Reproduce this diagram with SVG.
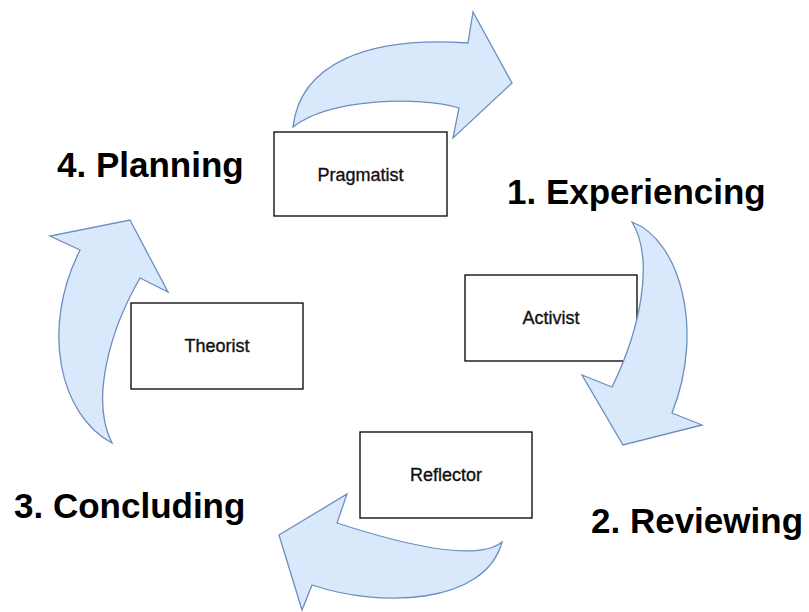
<svg xmlns="http://www.w3.org/2000/svg" width="809" height="612" viewBox="0 0 809 612">
  <style>
    .box { fill: #ffffff; stroke: #000000; stroke-width: 1.3; }
    .boxtext { font-family: "Liberation Sans", Arial, sans-serif; font-size: 18px; font-weight: normal; fill: #111111; stroke: #111111; stroke-width: 0.35; text-anchor: middle; }
    .stage { font-family: "Liberation Sans", Arial, sans-serif; font-size: 35px; font-weight: bold; fill: #000000; }
    .arrow { fill: #dae8fc; stroke: #6c8ebf; stroke-width: 1.3; stroke-linejoin: miter; }
  </style>
  <rect width="809" height="612" fill="#ffffff"/>

  <g id="node-pragmatist">
    <rect class="box" x="274" y="132" width="173" height="84"/>
    <text class="boxtext" x="360.5" y="181">Pragmatist</text>
  </g>
  <g id="node-activist">
    <rect class="box" x="465" y="275" width="172" height="86"/>
    <text class="boxtext" x="551" y="324">Activist</text>
  </g>
  <g id="node-theorist">
    <rect class="box" x="131" y="303" width="172" height="86"/>
    <text class="boxtext" x="217" y="352">Theorist</text>
  </g>
  <g id="node-reflector">
    <rect class="box" x="360" y="432" width="172" height="86"/>
    <text class="boxtext" x="446" y="481">Reflector</text>
  </g>

  <g id="connectors">
    <path id="arrow-top" class="arrow" d="M293,127 C300,65 365,36 468,43 L473,12 L512,83 L453,138 L459,108 C420,96 330,98 293,127 Z"/>
    <path id="arrow-right" class="arrow" d="M632,222 C680,240 705,330 672,413 L702,425 L623,445 L582,375 L612,387 C640,330 655,260 632,222 Z"/>
    <path id="arrow-bottom" class="arrow" d="M502,542 C480,560 420,550 337,523 L347,494 L279,535 L302,610 L312,585 C380,608 485,605 502,542 Z"/>
    <path id="arrow-left" class="arrow" d="M112,443 C60,415 40,330 80,250 L50,236 L130,220 L168,292 L140,278 C110,330 90,400 112,443 Z"/>
  </g>

  <g id="label-planning"><text class="stage" x="57" y="177">4. Planning</text></g>
  <g id="label-experiencing"><text class="stage" x="507" y="204">1. Experiencing</text></g>
  <g id="label-reviewing"><text class="stage" x="591" y="533">2. Reviewing</text></g>
  <g id="label-concluding"><text class="stage" x="14" y="518">3. Concluding</text></g>
</svg>
